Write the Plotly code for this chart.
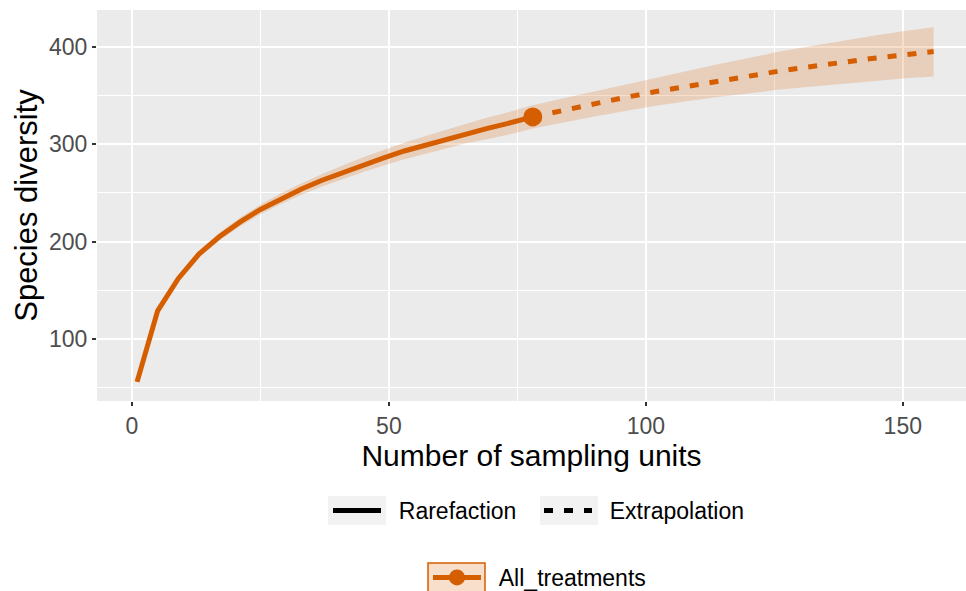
import plotly.graph_objects as go

# ---- data ----
rare_x = [1, 5, 9, 13, 17, 21, 25, 29, 33, 37, 41, 45, 49, 53, 57, 61, 65, 69, 73, 78]
rare_y = [56, 129, 162, 187, 205, 220, 233, 244, 254, 263, 271, 279, 286, 293, 299, 305, 311, 316, 321, 328]
rare_lo = [55, 127, 159, 183.5, 201, 215.5, 228, 238.5, 248, 256.5, 264, 271.5, 278, 284.5, 290, 295.5, 301, 305, 309.5, 316]
rare_hi = [57, 131, 165, 190.5, 209, 224.5, 238, 249.5, 260, 269.5, 278, 286.5, 294, 301.5, 308, 314.5, 321, 327, 332.5, 340]

extra_x = [78, 84, 90, 96, 102, 108, 114, 120, 126, 132, 138, 144, 150, 156]
extra_y = [328, 335, 341.5, 348, 354, 359.5, 365, 370, 375, 379.5, 384, 388, 391.5, 395]
extra_lo = [316, 322.5, 328.5, 334, 339.5, 344, 348.5, 352, 356, 359, 362, 365, 367.5, 369.5]
extra_hi = [340, 347, 354, 361, 368.5, 375, 382, 388.5, 395, 400.5, 406, 411, 416, 420]

obs_x = [78]
obs_y = [328]

x_ticks = [0, 50, 100, 150]
y_ticks = [100, 200, 300, 400]

ORANGE = "#D55E00"
BAND = "rgba(213,94,0,0.2)"
FONT = "Liberation Sans"
NB = "\u00a0\u00a0"

band_x = rare_x + extra_x[1:]
band_lo = rare_lo + extra_lo[1:]
band_hi = rare_hi + extra_hi[1:]

fig = go.Figure()
fig.add_trace(go.Scatter(x=band_x, y=band_lo, mode="lines", line=dict(width=0),
                         showlegend=False, hoverinfo="skip"))
fig.add_trace(go.Scatter(x=band_x, y=band_hi, mode="lines", line=dict(width=0),
                         fill="tonexty", fillcolor=BAND, showlegend=False, hoverinfo="skip"))
fig.add_trace(go.Scatter(x=rare_x, y=rare_y, mode="lines",
                         line=dict(color=ORANGE, width=5), showlegend=False))
fig.add_trace(go.Scatter(x=extra_x, y=extra_y, mode="lines",
                         line=dict(color=ORANGE, width=5, dash="9px,11px"), showlegend=False))
fig.add_trace(go.Scatter(x=obs_x, y=obs_y, mode="markers",
                         marker=dict(color=ORANGE, size=19), showlegend=False))

# legend entries
fig.add_trace(go.Scatter(x=[None], y=[None], mode="lines", name=NB + "Rarefaction",
                         line=dict(color="black", width=5), legend="legend"))
fig.add_trace(go.Scatter(x=[None], y=[None], mode="lines", name=NB + "Extrapolation",
                         line=dict(color="black", width=5, dash="9px,11px"), legend="legend"))
fig.add_trace(go.Scatter(x=[None], y=[None], mode="lines+markers", name=NB + "All_treatments",
                         line=dict(color=ORANGE, width=5), marker=dict(color=ORANGE, size=19),
                         legend="legend2"))

axis_common = dict(
    showgrid=True, gridcolor="white", gridwidth=2,
    ticks="outside", ticklen=4, tickwidth=1.5, tickcolor="#333333",
    tickfont=dict(family=FONT, size=23, color="#4D4D4D"),
    zeroline=False, showline=False,
    minor=dict(showgrid=True, gridcolor="white", gridwidth=1),
)

legend_common = dict(orientation="h", xanchor="left", yanchor="middle",
                     traceorder="normal", itemwidth=48,
                     font=dict(size=23, family=FONT, color="black"),
                     bgcolor="rgba(0,0,0,0)")

# legend key backgrounds (pixel geometry of the page -> paper coords)
PL, PW, PB, PH = 97, 869, 401, 391


def key_box(x0, x1, y0, y1, fill, line):
    return dict(type="rect", xref="paper", yref="paper",
                x0=(x0 - PL) / PW, x1=(x1 - PL) / PW,
                y0=(PB - y1) / PH, y1=(PB - y0) / PH,
                fillcolor=fill, line=line, layer="below")


shapes = [
    key_box(328, 386, 496, 525, "#F2F2F2", dict(width=0)),
    key_box(540, 598, 496, 525, "#F2F2F2", dict(width=0)),
    key_box(428, 485, 563, 592, BAND, dict(color=ORANGE, width=1.5)),
]

fig.update_layout(
    width=966, height=591,
    margin=dict(l=97, r=0, t=10, b=190, autoexpand=False),
    paper_bgcolor="white", plot_bgcolor="#EBEBEB",
    font=dict(family=FONT, color="black"),
    xaxis=dict(**axis_common, range=[-6.8, 162.3], tickvals=x_ticks,
               minor_dtick=25, minor_tick0=0,
               title=dict(text="Number of sampling units", font=dict(size=30, color="black"), standoff=3)),
    yaxis=dict(**axis_common, range=[36.4, 437.7], tickvals=y_ticks,
               minor_dtick=50, minor_tick0=0,
               title=dict(text="Species diversity", font=dict(size=31, color="black"), standoff=2)),
    legend=dict(**legend_common, x=(328 - PL) / PW, y=(PB - 510.5) / PH, entrywidth=148, entrywidthmode="pixels"),
    legend2=dict(**legend_common, x=(428 - PL) / PW, y=(PB - 577.5) / PH),
    shapes=shapes,
    showlegend=True,
)

fig.write_html("out.html")
